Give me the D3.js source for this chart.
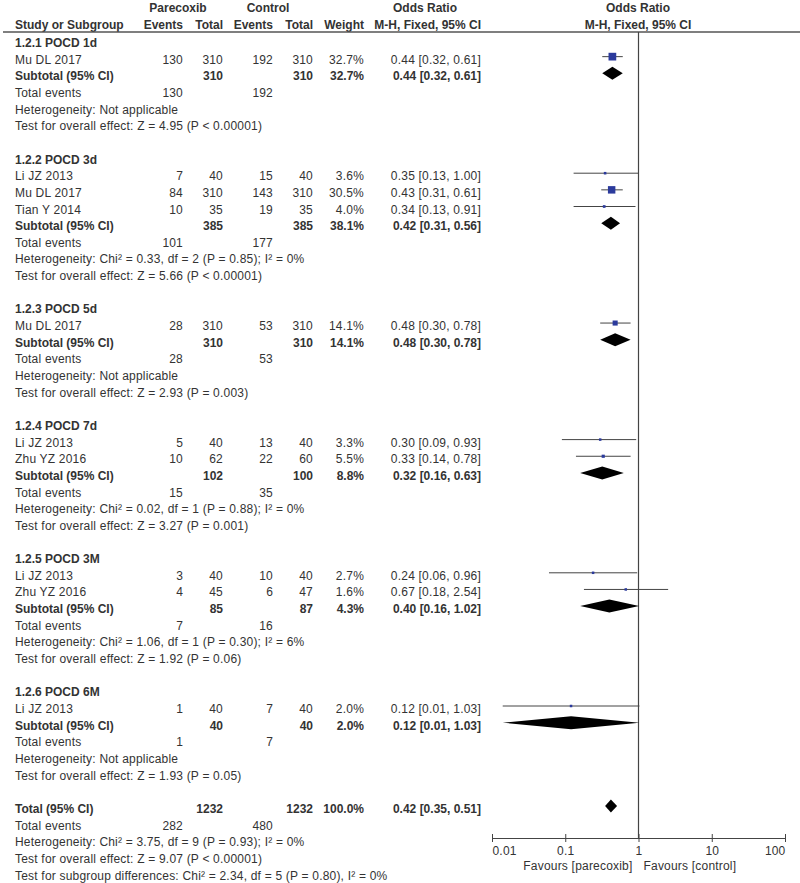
<!DOCTYPE html>
<html>
<head>
<meta charset="utf-8">
<script src="https://cdn.jsdelivr.net/npm/d3@7"></script>
<style>
body { margin: 0; background: #fff; }
svg text { font-family: "Liberation Sans", Arial, sans-serif; font-size: 12px; letter-spacing: 0.2px; fill: #333; }
svg text.b { font-weight: bold; letter-spacing: 0; }
</style>
</head>
<body>
<script>
var w = 800;
var h = 883;

// subgroups
var groupNames = ["1.2.1 POCD 1d", "1.2.2 POCD 3d", "1.2.3 POCD 5d", "1.2.4 POCD 7d", "1.2.5 POCD 3M", "1.2.6 POCD 6M"];
var subTotPar = [310, 385, 310, 102, 85, 40];
var subTotCtl = [310, 385, 310, 100, 87, 40];
var subEvPar = [130, 101, 28, 15, 7, 1];
var subEvCtl = [192, 177, 53, 35, 16, 7];
var subWeight = [32.7, 38.1, 14.1, 8.8, 4.3, 2.0];
var subOr = [0.44, 0.42, 0.48, 0.32, 0.40, 0.12];
var subLow = [0.32, 0.31, 0.30, 0.16, 0.16, 0.014];
var subHigh = [0.61, 0.56, 0.78, 0.63, 1.02, 1.03];
var hetText = [
  "Heterogeneity: Not applicable",
  "Heterogeneity: Chi\u00b2 = 0.33, df = 2 (P = 0.85); I\u00b2 = 0%",
  "Heterogeneity: Not applicable",
  "Heterogeneity: Chi\u00b2 = 0.02, df = 1 (P = 0.88); I\u00b2 = 0%",
  "Heterogeneity: Chi\u00b2 = 1.06, df = 1 (P = 0.30); I\u00b2 = 6%",
  "Heterogeneity: Not applicable"
];
var testText = [
  "Test for overall effect: Z = 4.95 (P < 0.00001)",
  "Test for overall effect: Z = 5.66 (P < 0.00001)",
  "Test for overall effect: Z = 2.93 (P = 0.003)",
  "Test for overall effect: Z = 3.27 (P = 0.001)",
  "Test for overall effect: Z = 1.92 (P = 0.06)",
  "Test for overall effect: Z = 1.93 (P = 0.05)"
];

// studies
var studyGroup = [0, 1, 1, 1, 2, 3, 3, 4, 4, 5];
var studyNames = ["Mu DL 2017", "Li JZ 2013", "Mu DL 2017", "Tian Y 2014", "Mu DL 2017", "Li JZ 2013", "Zhu YZ 2016", "Li JZ 2013", "Zhu YZ 2016", "Li JZ 2013"];
var evPar = [130, 7, 84, 10, 28, 5, 10, 3, 4, 1];
var totPar = [310, 40, 310, 35, 310, 40, 62, 40, 45, 40];
var evCtl = [192, 15, 143, 19, 53, 13, 22, 10, 6, 7];
var totCtl = [310, 40, 310, 35, 310, 40, 60, 40, 47, 40];
var weights = [32.7, 3.6, 30.5, 4.0, 14.1, 3.3, 5.5, 2.7, 1.6, 2.0];
var orVal = [0.44, 0.35, 0.43, 0.34, 0.48, 0.30, 0.33, 0.24, 0.67, 0.12];
var orLow = [0.32, 0.13, 0.31, 0.13, 0.30, 0.09, 0.14, 0.06, 0.18, 0.014];
var orHigh = [0.61, 1.00, 0.61, 0.91, 0.78, 0.93, 0.78, 0.96, 2.54, 1.03];

// overall
var totalN = [1232, 1232];
var totalEvents = [282, 480];
var totalWeight = 100.0;
var totalOr = [0.42, 0.35, 0.51];
var totalLines = [
  "Heterogeneity: Chi\u00b2 = 3.75, df = 9 (P = 0.93); I\u00b2 = 0%",
  "Test for overall effect: Z = 9.07 (P < 0.00001)",
  "Test for subgroup differences: Chi\u00b2 = 2.34, df = 5 (P = 0.80), I\u00b2 = 0%"
];
var axisTicks = [0.01, 0.1, 1, 10, 100];

var svg = d3.select("body").append("svg")
            .attr("width", w)
            .attr("height", h);

var x = d3.scaleLog().domain([0.01, 100]).range([492, 785]);
var y = d3.scaleLinear().domain([0, 50]).range([43, 43 + 50 * 16.65]);

// column positions
var col = { name: 15, evP: 183, totP: 223, evC: 273, totC: 313, wt: 364, or: 481 };

function txt(xp, yp, s, anchor, bold) {
  svg.append("text")
    .attr("class", bold ? "b" : null)
    .attr("x", xp).attr("y", yp + 4)
    .attr("text-anchor", anchor || "start")
    .text(s);
}
function fmtOr(o, l, u) { return o.toFixed(2) + " [" + l.toFixed(2) + ", " + u.toFixed(2) + "]"; }

// header
txt(178, 8, "Parecoxib", "middle", true);
txt(268, 8, "Control", "middle", true);
txt(425, 8, "Odds Ratio", "middle", true);
txt(638, 8, "Odds Ratio", "middle", true);
txt(col.name, 25, "Study or Subgroup", "start", true);
txt(col.evP, 25, "Events", "end", true);
txt(col.totP, 25, "Total", "end", true);
txt(col.evC, 25, "Events", "end", true);
txt(col.totC, 25, "Total", "end", true);
txt(col.wt, 25, "Weight", "end", true);
txt(col.or, 25, "M-H, Fixed, 95% CI", "end", true);
txt(638, 25, "M-H, Fixed, 95% CI", "middle", true);
svg.append("line").attr("x1", 3).attr("x2", 800).attr("y1", 32).attr("y2", 32)
  .attr("stroke", "#555").attr("stroke-width", 1.5);

// line of no effect
svg.append("line").attr("x1", x(1)).attr("x2", x(1)).attr("y1", 32).attr("y2", 838)
  .attr("stroke", "#444").attr("stroke-width", 1.2);

function diamond(row, o, l, u) {
  var cy = y(row) - 3;
  svg.append("path")
    .attr("d", "M" + x(l) + "," + cy + "L" + x(o) + "," + (cy - 6.5) + "L" + x(u) + "," + cy + "L" + x(o) + "," + (cy + 6.5) + "Z")
    .attr("fill", "#000");
}

var row = 0;
groupNames.forEach(function (g, gi) {
  txt(col.name, y(row), g, "start", true);
  row++;
  studyNames.forEach(function (s, i) {
    if (studyGroup[i] !== gi) return;
    var yy = y(row);
    txt(col.name, yy, s);
    txt(col.evP, yy, evPar[i], "end");
    txt(col.totP, yy, totPar[i], "end");
    txt(col.evC, yy, evCtl[i], "end");
    txt(col.totC, yy, totCtl[i], "end");
    txt(col.wt, yy, weights[i].toFixed(1) + "%", "end");
    txt(col.or, yy, fmtOr(orVal[i], orLow[i], orHigh[i]), "end");
    svg.append("line")
      .attr("x1", x(orLow[i])).attr("x2", x(orHigh[i]))
      .attr("y1", yy - 3).attr("y2", yy - 3)
      .attr("stroke", "#444").attr("stroke-width", 1);
    var sz = Math.max(2.5, Math.sqrt(weights[i]) * 1.35);
    svg.append("rect")
      .attr("x", x(orVal[i]) - sz / 2).attr("y", yy - 3 - sz / 2)
      .attr("width", sz).attr("height", sz)
      .attr("fill", "#2b3a9c");
    row++;
  });
  var ys = y(row);
  txt(col.name, ys, "Subtotal (95% CI)", "start", true);
  txt(col.totP, ys, subTotPar[gi], "end", true);
  txt(col.totC, ys, subTotCtl[gi], "end", true);
  txt(col.wt, ys, subWeight[gi].toFixed(1) + "%", "end", true);
  txt(col.or, ys, fmtOr(subOr[gi], subLow[gi], subHigh[gi]), "end", true);
  diamond(row, subOr[gi], subLow[gi], subHigh[gi]);
  row++;
  txt(col.name, y(row), "Total events");
  txt(col.evP, y(row), subEvPar[gi], "end");
  txt(col.evC, y(row), subEvCtl[gi], "end");
  row++;
  txt(col.name, y(row), hetText[gi]);
  row++;
  txt(col.name, y(row), testText[gi]);
  row += 2;
});

// overall
txt(col.name, y(row), "Total (95% CI)", "start", true);
txt(col.totP, y(row), totalN[0], "end", true);
txt(col.totC, y(row), totalN[1], "end", true);
txt(col.wt, y(row), totalWeight.toFixed(1) + "%", "end", true);
txt(col.or, y(row), fmtOr(totalOr[0], totalOr[1], totalOr[2]), "end", true);
diamond(row, totalOr[0], totalOr[1], totalOr[2]);
row++;
txt(col.name, y(row), "Total events");
txt(col.evP, y(row), totalEvents[0], "end");
txt(col.evC, y(row), totalEvents[1], "end");
row++;
totalLines.forEach(function (s) { txt(col.name, y(row), s); row++; });

// axis
var axis = d3.axisBottom(x).tickValues(axisTicks).tickFormat(function (d) { return String(d); })
  .tickSizeInner(4).tickSizeOuter(0).tickPadding(4);
var ax = svg.append("g").attr("transform", "translate(0,838)").call(axis);
ax.select(".domain").attr("stroke", "#444");
ax.selectAll(".tick line").attr("y1", -4).attr("y2", 4).attr("stroke", "#444");
ax.selectAll(".tick text").attr("font-size", "12px").attr("fill", "#444")
  .style("font-family", "'Liberation Sans', Arial, sans-serif")
  .attr("text-anchor", function (d, i) { return i === 0 ? "start" : (i === axisTicks.length - 1 ? "end" : "middle"); });

svg.append("text").attr("x", x(1) - 6).attr("y", 870).attr("text-anchor", "end").attr("fill", "#555").text("Favours [parecoxib]");
svg.append("text").attr("x", x(1) + 5).attr("y", 870).attr("text-anchor", "start").attr("fill", "#555").text("Favours [control]");
</script>
</body>
</html>
